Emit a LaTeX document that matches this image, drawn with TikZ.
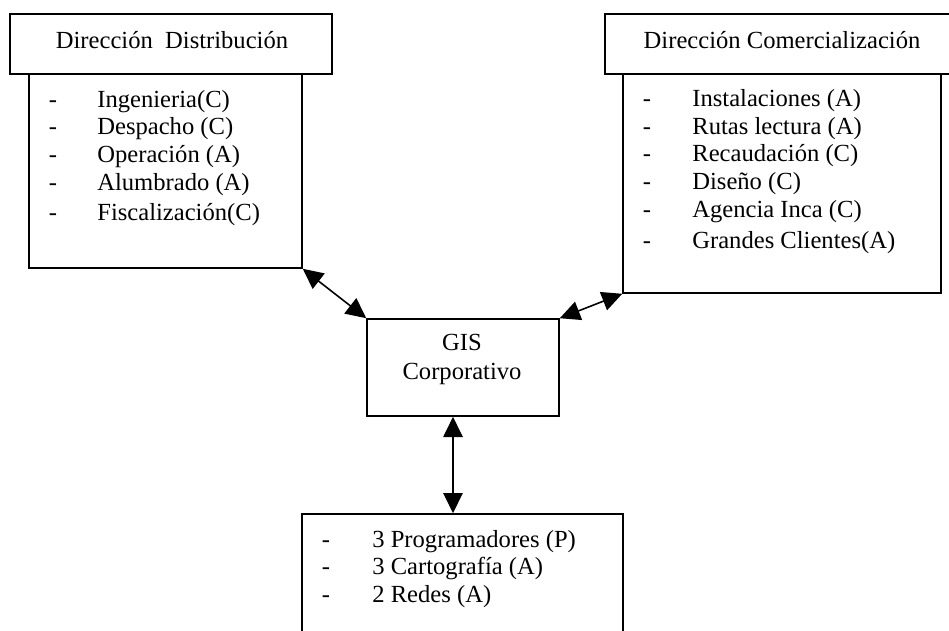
\documentclass[tikz,border=0pt]{standalone}
\usepackage{fontspec}
\setmainfont{Liberation Serif}
\usetikzlibrary{arrows.meta}

\tikzset{
  box/.style={draw, line width=0.9pt, inner sep=0pt},
  txt/.style={font=\fontsize{14}{16}\selectfont, inner sep=0pt, anchor=base},
  item/.style={txt, anchor=base west},
  link/.style={line width=0.9pt, {Triangle[length=11.5pt,width=11pt]}-{Triangle[length=11.5pt,width=11pt]}},
}

\begin{document}
\begin{tikzpicture}[x=0.02cm, y=-0.02cm]
  \useasboundingbox (0,0) rectangle (949,630);

  % boxes
  \node[box, minimum width=6.44cm, minimum height=1.2cm] (dhead) at (171,44) {};
  \node[box, minimum width=5.46cm, minimum height=3.88cm] (dlist) at (165.5,171) {};
  \node[box, minimum width=7.08cm, minimum height=1.2cm] (chead) at (782,44) {};
  \node[box, minimum width=6.36cm, minimum height=4.38cm] (clist) at (782,183.5) {};
  \node[box, minimum width=3.84cm, minimum height=1.94cm] (gis) at (463,367.5) {};
  \node[box, minimum width=6.42cm, minimum height=2.92cm] (team) at (462.5,587) {};

  % headings
  \node[txt] (dtitle) at (172,48) {Dirección~~Distribución};
  \node[txt] (ctitle) at (782,48) {Dirección Comercialización};
  \node[txt] (gis1) at (462,350) {GIS};
  \node[txt] (gis2) at (462,379) {Corporativo};

  % lists
  \foreach \y/\t [count=\i] in {107/Ingenieria(C), 134/Despacho (C), 162/Operación (A),
      190/Alumbrado (A), 220/Fiscalización(C)} {
    \node[txt] (dd\i) at (53,\y) {-};
    \node[item] (dt\i) at (97,\y) {\t};
  }
  \foreach \y/\t [count=\i] in {106/Instalaciones (A), 134/Rutas lectura (A), 161/Recaudación (C),
      189/Diseño (C), 217/Agencia Inca (C), 248/Grandes Clientes(A)} {
    \node[txt] (cd\i) at (647,\y) {-};
    \node[item] (ct\i) at (692,\y) {\t};
  }
  \foreach \y/\t [count=\i] in {547/3 Programadores (P), 574/3 Cartografía (A), 602/2 Redes (A)} {
    \node[txt] (pd\i) at (326,\y) {-};
    \node[item] (pt\i) at (372,\y) {\t};
  }

  % connectors
  \draw[link] (dlist.south east) -- (gis.north west);
  \draw[link] (gis.north east) -- (clist.south west);
  \draw[link] ([xshift=-0.2cm]gis.south) -- ([xshift=-0.2cm]gis.south |- team.north);
\end{tikzpicture}
\end{document}
